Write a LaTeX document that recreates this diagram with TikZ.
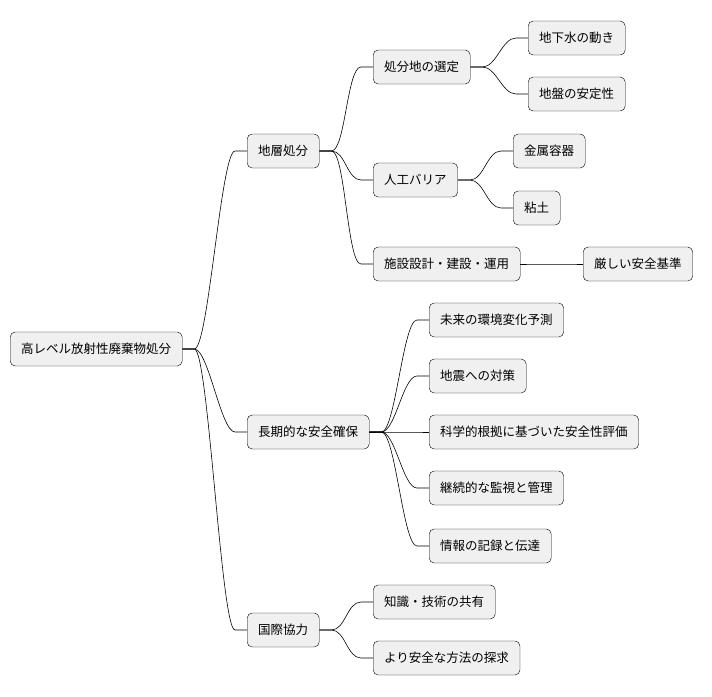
\documentclass[tikz,border=0pt]{standalone}
\usepackage{fontspec}
\setmainfont{Noto Sans CJK JP}
\usetikzlibrary{calc}
\begin{document}
\begin{tikzpicture}[x=1pt, y=-1pt,
	topic/.style={draw, fill=black!6, rounded corners=5pt, minimum height=34pt,
		inner xsep=11pt, anchor=west, font=\fontsize{12.5}{14}\selectfont},
	link/.style={line width=0.6pt}]

	\useasboundingbox (0,0) rectangle (712,696);

	% root and first level
	\node[topic] (root) at (10,349) {高レベル放射性廃棄物処分};
	\node[topic] (geo) at (247,151) {地層処分};
	\node[topic] (safe) at (247,432) {長期的な安全確保};
	\node[topic] (intl) at (247,630) {国際協力};

	% geological disposal
	\node[topic] (site) at (373,67) {処分地の選定};
	\node[topic] (barrier) at (373,180) {人工バリア};
	\node[topic] (facility) at (373,264) {施設設計・建設・運用};
	\node[topic] (water) at (528,38) {地下水の動き};
	\node[topic] (ground) at (528,94) {地盤の安定性};
	\node[topic] (metal) at (513,151) {金属容器};
	\node[topic] (clay) at (513,208) {粘土};
	\node[topic] (strict) at (583,264) {厳しい安全基準};

	% long-term safety
	\node[topic] (future) at (429,320) {未来の環境変化予測};
	\node[topic] (quake) at (429,376) {地震への対策};
	\node[topic] (science) at (429,432) {科学的根拠に基づいた安全性評価};
	\node[topic] (monitor) at (429,488) {継続的な監視と管理};
	\node[topic] (record) at (429,546) {情報の記録と伝達};

	% international cooperation
	\node[topic] (share) at (373,602) {知識・技術の共有};
	\node[topic] (better) at (373,658) {より安全な方法の探求};

	% connectors
	\foreach \p/\c in {root/geo, root/safe, root/intl,
		geo/site, geo/barrier, geo/facility,
		site/water, site/ground, barrier/metal, barrier/clay, facility/strict,
		safe/future, safe/quake, safe/science, safe/monitor, safe/record,
		intl/share, intl/better}
		\draw[link] (\p.east) -- ++(12,0) .. controls +(14,0) and +(-14,0) .. ($(\c.west)+(-12,0)$) -- (\c.west);

\end{tikzpicture}
\end{document}
